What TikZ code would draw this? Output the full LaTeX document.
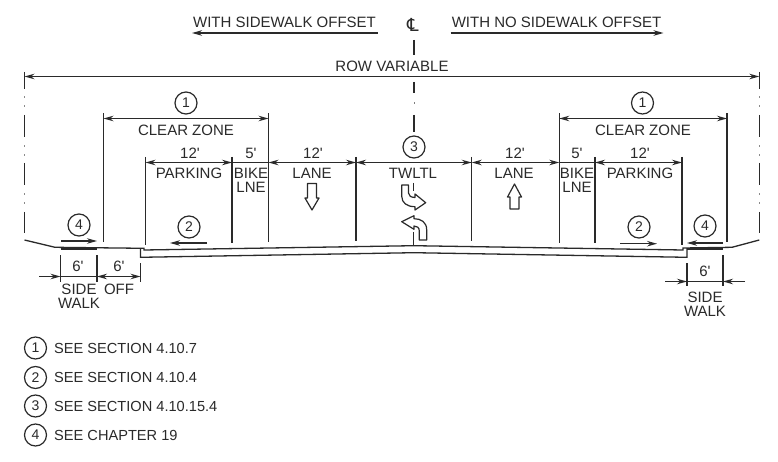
\documentclass[tikz,border=0pt]{standalone}
\usepackage{fontspec}
\newfontfamily\labfont{Liberation Sans}
\newfontfamily\symfont{DejaVu Sans}
\usetikzlibrary{arrows.meta}
\definecolor{ink}{HTML}{2A2A2A}
\tikzset{
  lab/.style={font=\labfont\fontsize{15}{15}\selectfont,text=ink,inner sep=0pt,anchor=center},
  leg/.style={font=\labfont\fontsize{14.6}{15}\selectfont,text=ink,inner sep=0pt,anchor=west},
  num/.style={draw=ink,line width=1.2pt,circle,minimum size=22pt,inner sep=0pt,text=ink,font=\labfont\fontsize{14}{14}\selectfont},
  thin line/.style={draw=ink,line width=1.2pt},
  tick/.style={draw=ink,line width=1.3pt},
  dim/.style={draw=ink,line width=1.2pt,-{Stealth[length=10pt,width=5.5pt]}},
  dimboth/.style={draw=ink,line width=1.2pt,{Stealth[length=10pt,width=5.5pt]}-{Stealth[length=10pt,width=5.5pt]}},
  hollow/.style={draw=ink,line width=1.2pt,fill=white,line join=round},
  road/.style={draw=ink,line width=1.3pt,line join=miter},
  walk/.style={draw=ink,line width=2.4pt},
}
\begin{document}
\begin{tikzpicture}[x=1pt,y=-1pt]
\useasboundingbox[fill=white] (0,0) rectangle (778,462);
% headers
\node[lab] (hl) at (284.5,22) {WITH SIDEWALK OFFSET};
\node[lab] (hr) at (556.5,22) {WITH NO SIDEWALK OFFSET};
\coordinate (hla) at (377.5,33); \coordinate (hlb) at (192,33);
\coordinate (hra) at (450.5,33); \coordinate (hrb) at (663.5,33);
\draw[dim,line width=1.5pt] (hla) -- (hlb);
\draw[dim,line width=1.5pt] (hra) -- (hrb);
% centreline symbol
\node[lab,font=\symfont\fontsize{18}{18}\selectfont] (cl) at (413,25) {^^^^2104};
\draw[tick] (414,40) -- (414,55) (414,82) -- (414,93) (414,115) -- (414,132)
            (413.5,183) -- (413.5,191) (413.5,232) -- (413.5,245);
\fill[ink!60] (413.6,102.5) rectangle (414.4,104);
% ROW
\coordinate (rowl) at (24.5,76.5); \coordinate (rowr) at (759.3,76.5);
\node[lab] (rowt) at (392,66) {ROW VARIABLE};
\draw[dimboth] (rowl) -- (rowr);
\foreach \x in {24.5,759.3}{
  \draw[tick] (\x,72) -- (\x,89) (\x,115) -- (\x,137) (\x,163) -- (\x,185) (\x,212) -- (\x,233);
  \foreach \y in {97,106,146,155,194,203}{
    \fill[ink!55] (\x-.6,\y-.7) rectangle (\x+.6,\y+.7);
  }
}
% clear zone
\coordinate (czla) at (103.5,118.5); \coordinate (czlb) at (268.5,118.5);
\coordinate (czra) at (559.3,118.5); \coordinate (czrb) at (727,118.5);
\draw[dimboth] (czla) -- (czlb);
\draw[dimboth] (czra) -- (czrb);
\draw[tick] (103.5,113.5) -- (103.5,242);
\draw[tick] (268.5,113.5) -- (268.5,242);
\draw[tick] (559.3,113.5) -- (559.3,243);
\draw[tick] (727,113.5) -- (727,242);
\node[num] (c1l) at (186,103) {1};
\node[num] (c1r) at (642.5,103) {1};
\node[lab] (czl) at (186,130) {CLEAR ZONE};
\node[lab] (czr) at (643,130) {CLEAR ZONE};
% lane lines
\draw[tick] (145.5,157) -- (145.5,245);
\draw[tick] (232,157) -- (232,243);
\draw[tick] (356,157) -- (356,241);
\draw[tick] (471.7,157) -- (471.7,241);
\draw[tick] (595,157) -- (595,243);
\draw[tick] (682,157) -- (682,245);
% lane dimensions
\foreach \a/\b in {145.5/232,268.5/356,356/471.7,471.7/559.3,595/682}{
  \draw[dimboth] (\a,162.5) -- (\b,162.5);
}
\draw[thin line] (232,162.5) -- (268.5,162.5) (559.3,162.5) -- (595,162.5);
\node[lab] (d1) at (190,153) {12'};
\node[lab] (d2) at (251,153) {5'};
\node[lab] (d3) at (313,153) {12'};
\node[num] (c3) at (414,147) {3};
\node[lab] (d4) at (515,153) {12'};
\node[lab] (d5) at (577,153) {5'};
\node[lab] (d6) at (640,153) {12'};
\node[lab] (t1) at (189,173) {PARKING};
\node[lab] (t2) at (251,173) {BIKE};
\node[lab] (t3) at (251,187) {LNE};
\node[lab] (t4) at (312,173) {LANE};
\node[lab] (t5) at (413,173) {TWLTL};
\node[lab] (t6) at (514,173) {LANE};
\node[lab] (t7) at (577,173) {BIKE};
\node[lab] (t8) at (577,187) {LNE};
\node[lab] (t9) at (640,173) {PARKING};
% lane arrows
\draw[hollow] (307.5,183.5) -- (316.5,183.5) -- (316.5,198) -- (319,198) -- (312,210) -- (305,198) -- (307.5,198) -- cycle;
\draw[hollow] (510,209) -- (519,209) -- (519,197) -- (521.5,197) -- (514.5,184) -- (507.5,197) -- (510,197) -- cycle;
\draw[hollow] (401.7,185) -- (408.5,185) -- (408.5,193) .. controls (408.5,196) and (411,197.3) .. (415,197.5) -- (415,194) -- (425.7,202.7) -- (415,210) -- (415,206.7) .. controls (407,206.7) and (401.7,203) .. (401.7,196) -- cycle;
\draw[hollow] (401.7,221.7) -- (414,215.7) -- (414,218.7) .. controls (421,218.7) and (426.7,222) .. (426.7,230) -- (426.7,240) -- (419.3,240) -- (419.3,231) .. controls (419.3,227.5) and (417,226) .. (414,226) -- (414,229.3) -- cycle;
% road section
\coordinate (a1) at (24.5,240); \coordinate (a2) at (55,247.3); \coordinate (a3) at (144,248.3);
\coordinate (a4) at (144,250); \coordinate (a5) at (414,245.7); \coordinate (a6) at (683,250);
\coordinate (a7) at (683,248); \coordinate (a8) at (732,247.3); \coordinate (a9) at (759.3,240);
\draw[road] (a1) -- (a2) -- (a3) -- (a4) -- (a5) -- (a6) -- (a7) -- (a8) -- (a9);
\coordinate (b1) at (140.5,248.3); \coordinate (b2) at (140.5,257.3); \coordinate (b3) at (414,252.7);
\coordinate (b4) at (687,257.3); \coordinate (b5) at (687,248);
\draw[road] (b1) -- (b2) -- (b3) -- (b4) -- (b5);
\draw[walk] (60.5,249) -- (97,249);
\draw[walk] (687,249) -- (723,249);
% circled notes and bike arrows
\node[num] (c4l) at (79,225) {4};
\node[num] (c2l) at (189,227) {2};
\node[num] (c2r) at (639,227) {2};
\node[num] (c4r) at (705,226) {4};
\coordinate (p1) at (61,241); \coordinate (p2) at (97,241);
\coordinate (p3) at (207,243); \coordinate (p4) at (170,243);
\coordinate (p5) at (620,243.7); \coordinate (p6) at (657,243.7);
\coordinate (p7) at (723,243); \coordinate (p8) at (687,243);
\draw[dim] (p1) -- (p2);
\draw[dim] (p3) -- (p4);
\draw[dim] (p5) -- (p6);
\draw[dim] (p7) -- (p8);
% sidewalk dimensions, left
\draw[tick] (60.5,255) -- (60.5,282);
\draw[tick] (97,255) -- (97,282);
\draw[tick] (140.5,263) -- (140.5,282);
\draw[thin line] (60.5,276.5) -- (97,276.5);
\draw[dim] (39,276.5) -- (60.5,276.5);
\draw[dimboth] (97,276.5) -- (140.5,276.5);
\node[lab] (e1) at (78,266) {6'};
\node[lab] (e2) at (119,266) {6'};
\node[lab] (e3) at (79,289) {SIDE};
\node[lab] (e4) at (79,303) {WALK};
\node[lab] (e5) at (119,289) {OFF};
% sidewalk dimensions, right
\draw[tick] (687,263) -- (687,286);
\draw[tick] (723,255) -- (723,286);
\draw[thin line] (687,281.5) -- (723,281.5);
\draw[dim] (665,281.5) -- (687,281.5);
\draw[dim] (745,281.5) -- (723,281.5);
\node[lab] (f1) at (705,271) {6'};
\node[lab] (f2) at (705,297) {SIDE};
\node[lab] (f3) at (705,311) {WALK};
% legend
\node[num] (l1) at (35.5,348) {1};
\node[num] (l2) at (35.5,377.5) {2};
\node[num] (l3) at (35.5,406) {3};
\node[num] (l4) at (35.5,435) {4};
\node[leg] (m1) at (54,348) {SEE SECTION 4.10.7};
\node[leg] (m2) at (54,377.5) {SEE SECTION 4.10.4};
\node[leg] (m3) at (54,406) {SEE SECTION 4.10.15.4};
\node[leg] (m4) at (54,435) {SEE CHAPTER 19};
\end{tikzpicture}
\end{document}
